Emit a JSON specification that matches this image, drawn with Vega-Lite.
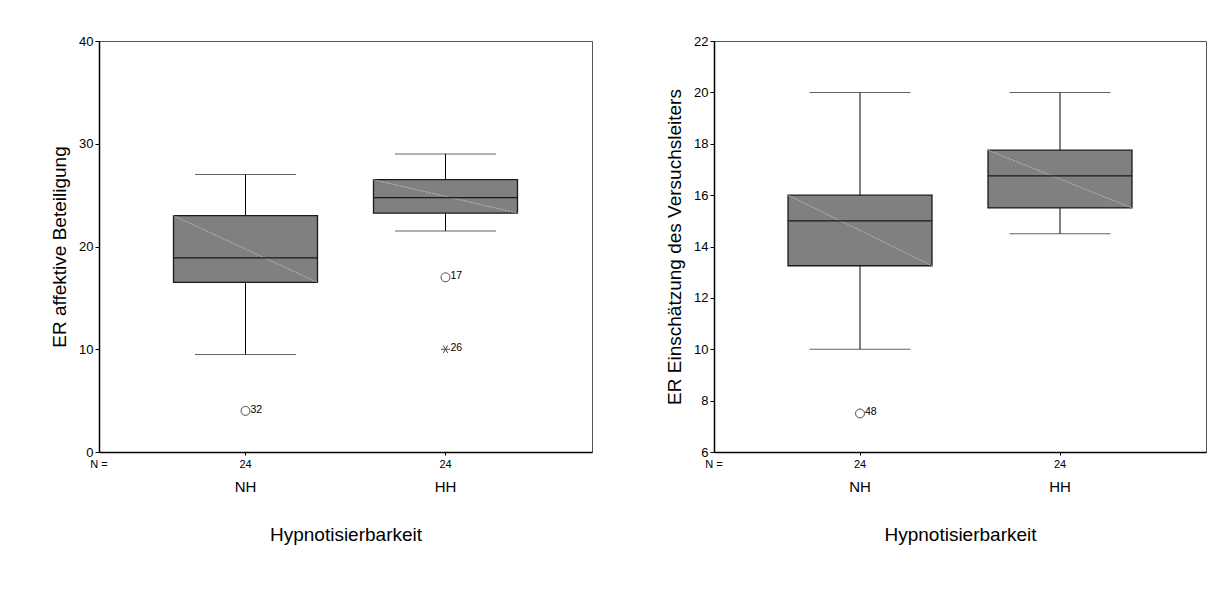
{
  "$schema": "https://vega.github.io/schema/vega-lite/v6.json",
  "padding": {"left": 50, "top": 34, "right": 0, "bottom": 0},
  "background": "white",
  "spacing": 72,
  "config": {
    "font": "Liberation Sans",
    "view": {"stroke": "#555555", "strokeWidth": 1},
    "axis": {
      "grid": false,
      "domainColor": "black",
      "domainWidth": 1.5,
      "tickColor": "black",
      "labelColor": "black",
      "titleColor": "black",
      "titleFontWeight": "normal",
      "labelFont": "Liberation Sans",
      "titleFont": "Liberation Sans"
    }
  },
  "datasets": {
    "aff_box": [
      {"group": "NH", "lower": 9.5, "q1": 16.5, "median": 18.9, "q3": 23, "upper": 27, "n": 24},
      {"group": "HH", "lower": 21.5, "q1": 23.25, "median": 24.75, "q3": 26.5, "upper": 29, "n": 24}
    ],
    "aff_out": [
      {"group": "NH", "value": 4, "case": "32", "type": "outlier"},
      {"group": "HH", "value": 17, "case": "17", "type": "outlier"},
      {"group": "HH", "value": 10, "case": "26", "type": "extreme"}
    ],
    "vl_box": [
      {"group": "NH", "lower": 10, "q1": 13.25, "median": 15, "q3": 16, "upper": 20, "n": 24},
      {"group": "HH", "lower": 14.5, "q1": 15.5, "median": 16.75, "q3": 17.75, "upper": 20, "n": 24}
    ],
    "vl_out": [
      {"group": "NH", "value": 7.5, "case": "48", "type": "outlier"}
    ]
  },
  "hconcat": [
    {
      "width": 493,
      "height": 411,
      "layer": [
        {
          "data": {"name": "aff_box"},
          "mark": {"type": "rule", "color": "black", "strokeWidth": 1},
          "encoding": {
            "x": {"field": "group", "type": "nominal", "sort": ["NH", "HH"],
              "scale": {"paddingInner": 0.28, "paddingOuter": 0.3725},
              "axis": {"title": "Hypnotisierbarkeit", "labelAngle": 0, "tickSize": 3, "labelPadding": 24, "labelFontSize": 15, "titleFontSize": 19, "titlePadding": 31}},
            "y": {"field": "lower", "type": "quantitative",
              "scale": {"domain": [0, 40], "nice": false, "zero": false},
              "axis": {"title": "ER affektive Beteiligung", "values": [0, 10, 20, 30, 40], "tickSize": 4, "labelPadding": 2, "labelFontSize": 13, "titleFontSize": 19, "titlePadding": 9}},
            "y2": {"field": "upper"}
          }
        },
        {
          "data": {"name": "aff_box"},
          "mark": {"type": "bar", "fill": "#808080", "stroke": "#1a1a1a", "strokeWidth": 1.3},
          "encoding": {
            "x": {"field": "group", "type": "nominal", "sort": ["NH", "HH"]},
            "y": {"field": "q1", "type": "quantitative"},
            "y2": {"field": "q3"}
          }
        },
        {
          "data": {"name": "aff_box"},
          "mark": {"type": "rule", "color": "#c4c4c4", "strokeWidth": 0.8, "strokeDash": [2, 1]},
          "encoding": {
            "x": {"field": "group", "type": "nominal", "sort": ["NH", "HH"], "bandPosition": 0},
            "x2": {"field": "group", "bandPosition": 1},
            "y": {"field": "q3", "type": "quantitative"},
            "y2": {"field": "q1"}
          }
        },
        {
          "data": {"name": "aff_box"},
          "mark": {"type": "rule", "color": "#1a1a1a", "strokeWidth": 1.3},
          "encoding": {
            "x": {"field": "group", "type": "nominal", "sort": ["NH", "HH"], "bandPosition": 0},
            "x2": {"field": "group", "bandPosition": 1},
            "y": {"field": "median", "type": "quantitative"}
          }
        },
        {
          "data": {"name": "aff_box"},
          "mark": {"type": "tick", "color": "#222222", "size": 101, "thickness": 1},
          "encoding": {
            "x": {"field": "group", "type": "nominal", "sort": ["NH", "HH"]},
            "y": {"field": "lower", "type": "quantitative"}
          }
        },
        {
          "data": {"name": "aff_box"},
          "mark": {"type": "tick", "color": "#222222", "size": 101, "thickness": 1},
          "encoding": {
            "x": {"field": "group", "type": "nominal", "sort": ["NH", "HH"]},
            "y": {"field": "upper", "type": "quantitative"}
          }
        },
        {
          "data": {"name": "aff_box"},
          "mark": {"type": "text", "y": {"expr": "height + 13"}, "baseline": "middle", "align": "center", "fontSize": 11, "color": "black"},
          "encoding": {
            "x": {"field": "group", "type": "nominal", "sort": ["NH", "HH"]},
            "text": {"field": "n", "type": "quantitative"}
          }
        },
        {
          "data": {"values": [{"label": "N ="}]},
          "mark": {"type": "text", "x": 0, "y": {"expr": "height + 13"}, "baseline": "middle", "align": "center", "fontSize": 11, "color": "black"},
          "encoding": {"text": {"field": "label"}}
        },
        {
          "data": {"name": "aff_out"},
          "mark": {"type": "point", "filled": false, "color": "black", "strokeWidth": 1, "size": 80},
          "encoding": {
            "x": {"field": "group", "type": "nominal", "sort": ["NH", "HH"]},
            "y": {"field": "value", "type": "quantitative"},
            "shape": {"field": "type", "type": "nominal",
              "scale": {"domain": ["outlier", "extreme"], "range": ["circle", "M-1,0L1,0M-0.5,-0.866L0.5,0.866M-0.5,0.866L0.5,-0.866"]},
              "legend": null}
          }
        },
        {
          "data": {"name": "aff_out"},
          "mark": {"type": "text", "align": "left", "baseline": "middle", "dx": 5, "dy": -1, "fontSize": 10.5, "color": "black"},
          "encoding": {
            "x": {"field": "group", "type": "nominal", "sort": ["NH", "HH"]},
            "y": {"field": "value", "type": "quantitative"},
            "text": {"field": "case"}
          }
        }
      ]
    },
    {
      "width": 492,
      "height": 411,
      "layer": [
        {
          "data": {"name": "vl_box"},
          "mark": {"type": "rule", "color": "black", "strokeWidth": 1},
          "encoding": {
            "x": {"field": "group", "type": "nominal", "sort": ["NH", "HH"],
              "scale": {"paddingInner": 0.28, "paddingOuter": 0.37},
              "axis": {"title": "Hypnotisierbarkeit", "labelAngle": 0, "tickSize": 3, "labelPadding": 24, "labelFontSize": 15, "titleFontSize": 19, "titlePadding": 31}},
            "y": {"field": "lower", "type": "quantitative",
              "scale": {"domain": [6, 22], "nice": false, "zero": false},
              "axis": {"title": "ER Einschätzung des Versuchsleiters", "values": [6, 8, 10, 12, 14, 16, 18, 20, 22], "tickSize": 4, "labelPadding": 2, "labelFontSize": 13, "titleFontSize": 19, "titlePadding": 9}},
            "y2": {"field": "upper"}
          }
        },
        {
          "data": {"name": "vl_box"},
          "mark": {"type": "bar", "fill": "#808080", "stroke": "#1a1a1a", "strokeWidth": 1.3},
          "encoding": {
            "x": {"field": "group", "type": "nominal", "sort": ["NH", "HH"]},
            "y": {"field": "q1", "type": "quantitative"},
            "y2": {"field": "q3"}
          }
        },
        {
          "data": {"name": "vl_box"},
          "mark": {"type": "rule", "color": "#c4c4c4", "strokeWidth": 0.8, "strokeDash": [2, 1]},
          "encoding": {
            "x": {"field": "group", "type": "nominal", "sort": ["NH", "HH"], "bandPosition": 0},
            "x2": {"field": "group", "bandPosition": 1},
            "y": {"field": "q3", "type": "quantitative"},
            "y2": {"field": "q1"}
          }
        },
        {
          "data": {"name": "vl_box"},
          "mark": {"type": "rule", "color": "#1a1a1a", "strokeWidth": 1.3},
          "encoding": {
            "x": {"field": "group", "type": "nominal", "sort": ["NH", "HH"], "bandPosition": 0},
            "x2": {"field": "group", "bandPosition": 1},
            "y": {"field": "median", "type": "quantitative"}
          }
        },
        {
          "data": {"name": "vl_box"},
          "mark": {"type": "tick", "color": "#222222", "size": 101, "thickness": 1},
          "encoding": {
            "x": {"field": "group", "type": "nominal", "sort": ["NH", "HH"]},
            "y": {"field": "lower", "type": "quantitative"}
          }
        },
        {
          "data": {"name": "vl_box"},
          "mark": {"type": "tick", "color": "#222222", "size": 101, "thickness": 1},
          "encoding": {
            "x": {"field": "group", "type": "nominal", "sort": ["NH", "HH"]},
            "y": {"field": "upper", "type": "quantitative"}
          }
        },
        {
          "data": {"name": "vl_box"},
          "mark": {"type": "text", "y": {"expr": "height + 13"}, "baseline": "middle", "align": "center", "fontSize": 11, "color": "black"},
          "encoding": {
            "x": {"field": "group", "type": "nominal", "sort": ["NH", "HH"]},
            "text": {"field": "n", "type": "quantitative"}
          }
        },
        {
          "data": {"values": [{"label": "N ="}]},
          "mark": {"type": "text", "x": 0, "y": {"expr": "height + 13"}, "baseline": "middle", "align": "center", "fontSize": 11, "color": "black"},
          "encoding": {"text": {"field": "label"}}
        },
        {
          "data": {"name": "vl_out"},
          "mark": {"type": "point", "filled": false, "color": "black", "strokeWidth": 1, "size": 80},
          "encoding": {
            "x": {"field": "group", "type": "nominal", "sort": ["NH", "HH"]},
            "y": {"field": "value", "type": "quantitative"},
            "shape": {"field": "type", "type": "nominal",
              "scale": {"domain": ["outlier", "extreme"], "range": ["circle", "M-1,0L1,0M-0.5,-0.866L0.5,0.866M-0.5,0.866L0.5,-0.866"]},
              "legend": null}
          }
        },
        {
          "data": {"name": "vl_out"},
          "mark": {"type": "text", "align": "left", "baseline": "middle", "dx": 5, "dy": -1, "fontSize": 10.5, "color": "black"},
          "encoding": {
            "x": {"field": "group", "type": "nominal", "sort": ["NH", "HH"]},
            "y": {"field": "value", "type": "quantitative"},
            "text": {"field": "case"}
          }
        }
      ]
    }
  ],
  "resolve": {"scale": {"shape": "independent"}}
}
